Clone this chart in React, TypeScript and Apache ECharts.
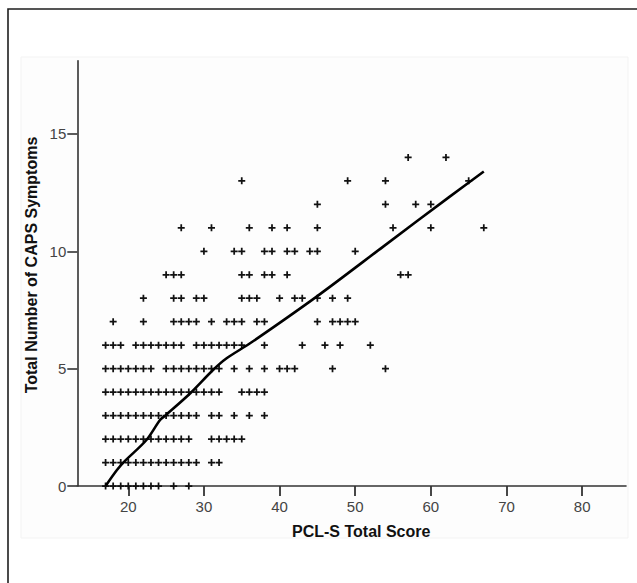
import { useEffect, useRef } from "react";
import * as echarts from "echarts";

// Tick labels
const xTicks = [20, 30, 40, 50, 60, 70, 80];
const yTicks = [0, 5, 10, 15];

// PCL-S scores observed for each count of CAPS symptoms (row index = symptom count)
const row0 = [17, 18, 19, 20, 21, 22, 23, 24, 26, 28];
const row1 = [17, 18, 19, 20, 21, 22, 23, 24, 25, 26, 27, 28, 29, 31, 32];
const row2 = [17, 18, 19, 20, 21, 22, 23, 24, 25, 26, 27, 28, 31, 32, 33, 34, 35];
const row3 = [17, 18, 19, 20, 21, 22, 23, 24, 25, 26, 27, 28, 29, 31, 32, 34, 36, 38];
const row4 = [17, 18, 19, 20, 21, 22, 23, 24, 25, 26, 27, 28, 29, 30, 31, 32, 35, 36, 37, 38];
const row5 = [17, 18, 19, 20, 21, 22, 23, 25, 26, 27, 28, 29, 30, 31, 32, 34, 36, 38, 40, 41, 42, 47, 54];
const row6 = [17, 18, 19, 21, 22, 23, 24, 25, 26, 27, 29, 30, 31, 32, 33, 34, 35, 38, 43, 46, 48, 52];
const row7 = [18, 22, 26, 27, 28, 29, 31, 33, 34, 35, 37, 38, 45, 47, 48, 49, 50];
const row8 = [22, 26, 27, 29, 30, 35, 36, 37, 40, 42, 43, 45, 47, 49];
const row9 = [25, 26, 27, 35, 36, 38, 39, 41, 56, 57];
const row10 = [30, 34, 35, 38, 39, 41, 42, 44, 45, 50];
const row11 = [27, 31, 36, 39, 41, 45, 55, 60, 67];
const row12 = [45, 54, 58, 60];
const row13 = [35, 49, 54, 65];
const row14 = [57, 62];
const rows = [row0, row1, row2, row3, row4, row5, row6, row7, row8, row9, row10, row11, row12, row13, row14];

// Fit line (loess-like)
const fitX = [17, 18.5, 19.5, 22.4, 24.2, 25, 28.2, 31.2, 33, 36.1, 44.9, 53.7, 62.5, 67];
const fitY = [0, 0.68, 1.05, 1.96, 2.81, 3.03, 3.95, 4.94, 5.44, 6.08, 8.07, 10.2, 12.33, 13.4];

const PLUS = "path://M3,0H5V3H8V5H5V8H3V5H0V3H3Z";

export default function App() {
  const ref = useRef<HTMLDivElement>(null);
  useEffect(() => {
    if (!ref.current) return;
    const chart = echarts.init(ref.current, undefined, { renderer: "svg" });
    const pts: number[][] = [];
    rows.forEach((r, y) => r.forEach((x) => pts.push([x, y])));
    const fit = fitX.map((x, i) => [x, fitY[i]]);
    const font = "Liberation Sans, Arial, sans-serif";
    chart.setOption({
      animation: false,
      backgroundColor: "#fff",
      graphic: [
        {
          type: "rect",
          z: -10,
          silent: true,
          shape: { x: 8, y: 9, width: 660, height: 600 },
          style: { fill: "#fff", stroke: "#1e1e1e", lineWidth: 1.6 },
        },
        {
          type: "rect",
          z: -9,
          silent: true,
          shape: { x: 21, y: 57, width: 607, height: 481 },
          style: { fill: "#fdfdfd", stroke: "#f3f3f3", lineWidth: 1 },
        },
        {
          type: "text",
          left: 292,
          top: 523,
          style: { text: "PCL-S Total Score", font: `bold 16px ${font}`, fill: "#111" },
        },
        {
          type: "text",
          x: 31,
          y: 265,
          rotation: Math.PI / 2,
          style: {
            text: "Total Number of CAPS Symptoms",
            font: `bold 16px ${font}`,
            fill: "#111",
            align: "center",
            verticalAlign: "middle",
          },
        },
      ],
      grid: { left: 77.3, top: 60.7, width: 548.7, height: 425.3, containLabel: false, outerBoundsMode: "none" },
      xAxis: {
        type: "value",
        min: 13.26,
        max: 85.8,
        splitLine: { show: false },
        axisLine: { show: true, onZero: false, lineStyle: { color: "#333", width: 1.6 } },
        axisTick: { show: true, customValues: xTicks, length: 10, lineStyle: { color: "#333", width: 1.8 } },
        axisLabel: { customValues: xTicks, margin: 13, fontSize: 15, fontFamily: font, color: "#444" },
      },
      yAxis: {
        type: "value",
        min: 0,
        max: 18.12,
        splitLine: { show: false },
        axisLine: { show: true, onZero: false, lineStyle: { color: "#333", width: 1.6 } },
        axisTick: { show: true, customValues: yTicks, length: 10, lineStyle: { color: "#333", width: 1.6 } },
        axisLabel: { customValues: yTicks, margin: 11, fontSize: 15, fontFamily: font, color: "#444" },
      },
      series: [
        {
          type: "scatter",
          data: pts,
          symbol: PLUS,
          symbolSize: 7,
          itemStyle: { color: "#111", opacity: 1 },
          z: 3,
        },
        {
          type: "line",
          data: fit,
          showSymbol: false,
          smooth: 0.3,
          lineStyle: { color: "#000", width: 2.6 },
          z: 4,
        },
      ],
    });
    return () => chart.dispose();
  }, []);
  return <div ref={ref} style={{ position: "fixed", left: 0, top: 0, width: 637, height: 583 }} />;
}
